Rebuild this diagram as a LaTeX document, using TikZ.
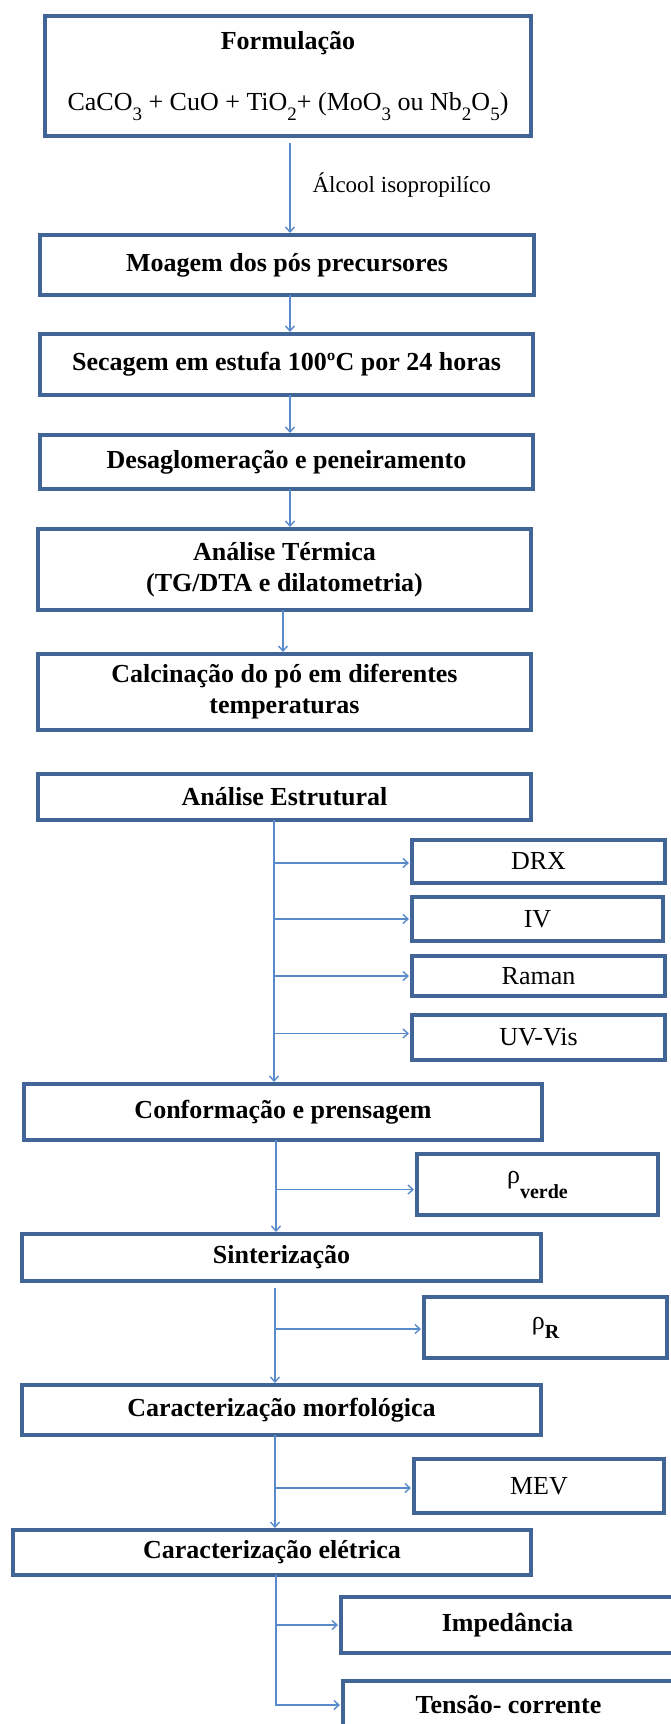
\documentclass[tikz,border=0pt]{standalone}
\usepackage{fontspec}
\setmainfont{Liberation Serif}
\usetikzlibrary{arrows.meta,calc}
\definecolor{boxblue}{RGB}{65,101,150}
\definecolor{linkblue}{RGB}{88,138,204}
\newcommand\lowsub[1]{\raisebox{-10pt}{\fontsize{19}{19}\selectfont #1}}
\begin{document}
\begin{tikzpicture}[x=1pt,y=-1pt,
  boxnode/.style={draw=boxblue,line width=4pt,rectangle,inner sep=0pt,outer sep=0pt,fill=white,align=center,font=\fontsize{26}{31}\selectfont\bfseries},
  plainbox/.style={boxnode,font=\fontsize{26}{31}\selectfont},
  link/.style={draw=linkblue,line width=1.4pt,-{Straight Barb[length=5pt,width=9pt]}},
]
\useasboundingbox (0,0) rectangle (670,1724);
\fill[white] (0,0) rectangle (670,1724);

% main column
\node[boxnode,minimum width=486pt,minimum height=120pt] (form) at (288,76) {};
\node[font=\fontsize{26}{31}\selectfont\bfseries,anchor=base] (formT) at (288,49) {Formulação};
\node[font=\fontsize{26}{31}\selectfont,anchor=base] (formF) at (288,110) {CaCO\lowsub{3} + CuO + TiO\lowsub{2}+ (MoO\lowsub{3} ou Nb\lowsub{2}O\lowsub{5})};
\node[boxnode,minimum width=494pt,minimum height=60pt] (moag) at (287,265) {Moagem dos pós precursores};
\node[boxnode,minimum width=493pt,minimum height=61pt] (sec) at (286.5,364.5) {Secagem em estufa 100ºC por 24 horas};
\node[boxnode,minimum width=493pt,minimum height=54pt] (desag) at (286.5,462) {Desaglomeração e peneiramento};
\node[boxnode,minimum width=493pt,minimum height=81pt] (term) at (284.5,569.5) {Análise Térmica\\(TG/DTA e dilatometria)};
\node[boxnode,minimum width=493pt,minimum height=76pt] (calc) at (284.5,692) {Calcinação do pó em diferentes\\temperaturas};
\node[boxnode,minimum width=493pt,minimum height=46pt] (estr) at (284.5,797) {Análise Estrutural};
\node[boxnode,minimum width=518pt,minimum height=56pt] (conf) at (283,1112) {Conformação e prensagem};
\node[boxnode,minimum width=519pt,minimum height=47pt] (sint) at (281.5,1257.5) {Sinterização};
\node[boxnode,minimum width=519pt,minimum height=50pt] (morf) at (281.5,1410) {Caracterização morfológica};
\node[boxnode,minimum width=518pt,minimum height=45pt] (elet) at (272,1552.5) {Caracterização elétrica};

% right column
\node[plainbox,minimum width=253pt,minimum height=43pt] (drx) at (538.5,861.5) {DRX};
\node[plainbox,minimum width=251pt,minimum height=44pt] (iv) at (537.5,919) {IV};
\node[plainbox,minimum width=253pt,minimum height=40pt] (raman) at (538.5,976) {Raman};
\node[plainbox,minimum width=253pt,minimum height=45pt] (uvvis) at (538.5,1037.5) {UV-Vis};
\node[plainbox,minimum width=241pt,minimum height=61pt] (rverde) at (537.5,1184.5) {ρ\raisebox{-15pt}{\fontsize{20}{20}\selectfont\bfseries verde}};
\node[plainbox,minimum width=243pt,minimum height=61pt] (rr) at (545.5,1327.5) {ρ\raisebox{-9pt}{\fontsize{20}{20}\selectfont\bfseries R}};
\node[plainbox,minimum width=250pt,minimum height=54pt] (mev) at (539,1486) {MEV};
\node[boxnode,minimum width=333pt,minimum height=56pt] (imp) at (507.5,1625) {Impedância};
\node[boxnode,minimum width=331pt,minimum height=48pt] (tens) at (508.5,1705) {Tensão- corrente};

% label
\node[font=\fontsize{23}{27}\selectfont,anchor=west] (lbl) at (309,185) {Álcool isopropilíco};

% trunk x positions
\coordinate (c1) at (290,0);
\coordinate (c2) at (283,0);
\coordinate (c3) at (274,0);
\coordinate (c4) at (276,0);
\coordinate (c5) at (275,0);
\coordinate (c6) at (275,0);
\coordinate (c7) at (276,0);

\draw[link] ([yshift=-7pt]form.south -| c1) -- ([yshift=2pt]moag.north -| c1);
\draw[link] (moag.south -| c1) -- ([yshift=2pt]sec.north -| c1);
\draw[link] (sec.south -| c1) -- ([yshift=2pt]desag.north -| c1);
\draw[link] (desag.south -| c1) -- ([yshift=2pt]term.north -| c1);
\draw[link] (term.south -| c2) -- ([yshift=2pt]calc.north -| c2);

\draw[link] (estr.south -| c3) -- ([yshift=2pt]conf.north -| c3);
\draw[link,shorten >=3pt] ([yshift=-1.5pt]drx.west -| c3) -- ([yshift=-1.5pt]drx.west);
\draw[link,shorten >=3pt] (iv.west -| c3) -- (iv.west);
\draw[link,shorten >=3pt] (raman.west -| c3) -- (raman.west);
\draw[link,shorten >=3pt] ([yshift=4pt]uvvis.west -| c3) -- ([yshift=4pt]uvvis.west);

\draw[link] (conf.south -| c4) -- ([yshift=2pt]sint.north -| c4);
\draw[link,shorten >=3pt] ([yshift=-5pt]rverde.west -| c4) -- ([yshift=-5pt]rverde.west);

\draw[link] ([yshift=-7pt]sint.south -| c5) -- ([yshift=2pt]morf.north -| c5);
\draw[link,shorten >=3pt] ([yshift=-1.5pt]rr.west -| c5) -- ([yshift=-1.5pt]rr.west);

\draw[link] (morf.south -| c6) -- ([yshift=2pt]elet.north -| c6);
\draw[link,shorten >=3pt] ([yshift=-2pt]mev.west -| c6) -- ([yshift=-2pt]mev.west);

\draw[link,shorten >=3pt] (elet.south -| c7) |- (tens.west);
\draw[link,shorten >=3pt] (imp.west -| c7) -- (imp.west);
\end{tikzpicture}
\end{document}
